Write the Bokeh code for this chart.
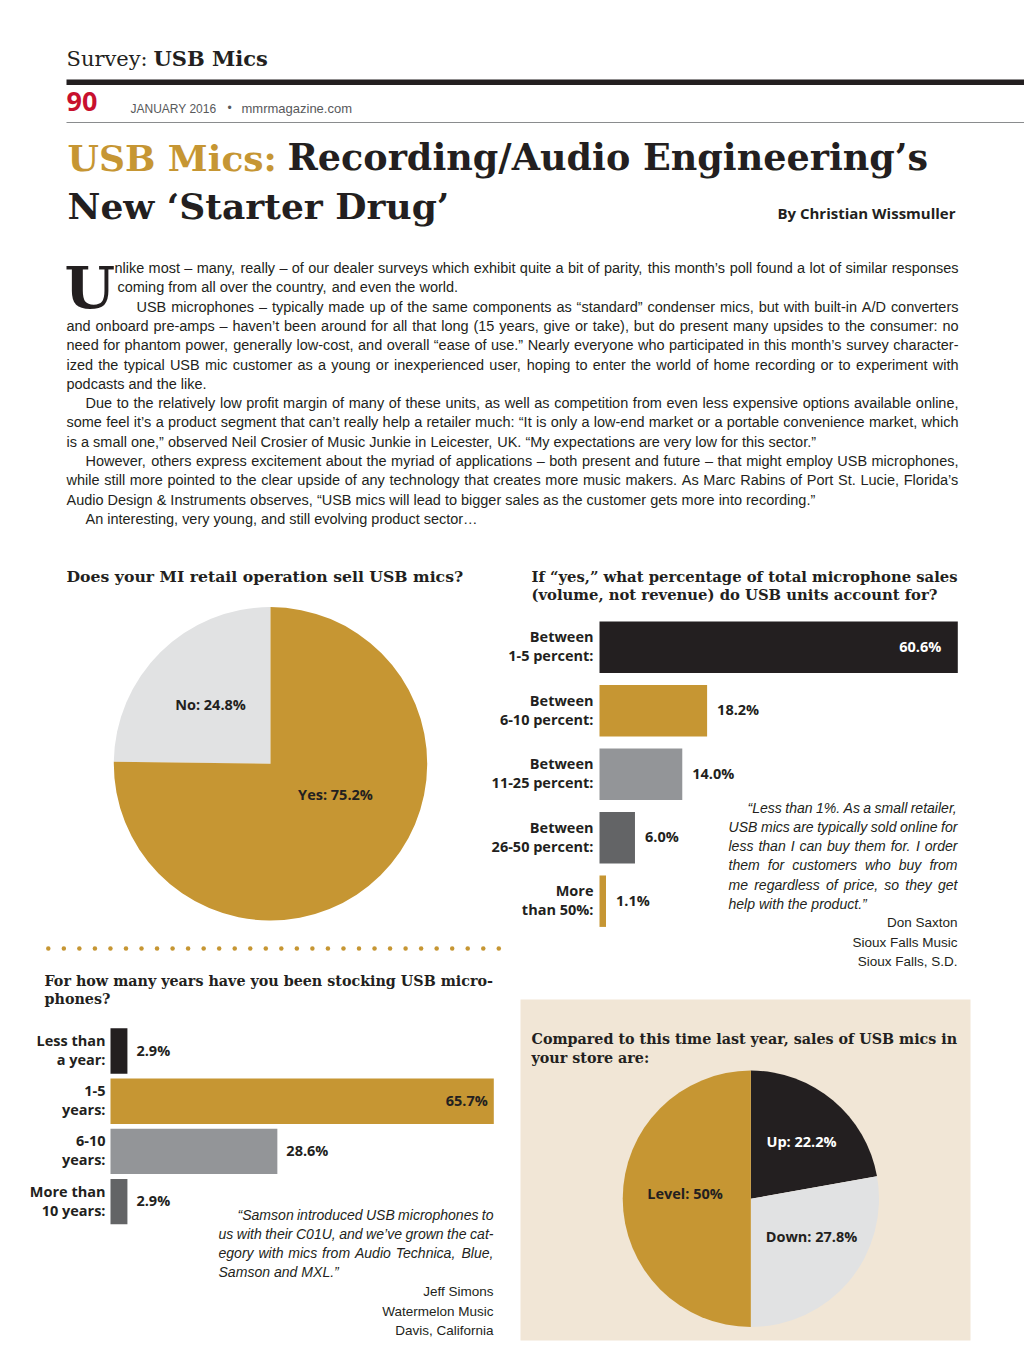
import math
from bokeh.plotting import figure
from bokeh.models import Range1d, ColumnDataSource
from bokeh.core.properties import value
from bokeh.embed import file_html
from bokeh.resources import INLINE

# ---------------- data ----------------
pie1_labels = ["No", "Yes"]
pie1_values = [24.8, 75.2]

bar1_line1 = ["Between", "Between", "Between", "Between", "More"]
bar1_line2 = ["1-5 percent:", "6-10 percent:", "11-25 percent:", "26-50 percent:", "than 50%:"]
bar1_values = [60.6, 18.2, 14.0, 6.0, 1.1]

bar2_line1 = ["Less than", "1-5", "6-10", "More than"]
bar2_line2 = ["a year:", "years:", "years:", "10 years:"]
bar2_values = [2.9, 65.7, 28.6, 2.9]

pie2_labels = ["Up", "Down", "Level"]
pie2_values = [22.2, 27.8, 50.0]

# ---------------- styles ----------------
GOLD = "#c69633"
INK = "#231f20"
LGRAY = "#e1e2e3"
GRAY = "#939598"
DGRAY = "#636466"
BEIGE = "#f1e6d6"
RED = "#c8102e"
pie1_colors = [LGRAY, GOLD]
pie2_colors = [INK, LGRAY, GOLD]
bar1_colors = [INK, GOLD, GRAY, DGRAY, GOLD]
bar2_colors = [INK, GOLD, GRAY, DGRAY]

SANS = value("Liberation Sans")
LAB = value("Open Sans")
SLAB = value("DejaVu Serif")
BASE_K = 0.41  # renderer places alphabetic baseline this many em lower; compensate

# Helvetica / Arial advance widths (1/1000 em) for justification
HELV = {' ': 278, '!': 278, '"': 355, '#': 556, '$': 556, '%': 889, '&': 667, "'": 191,
        '(': 333, ')': 333, '*': 389, '+': 584, ',': 278, '-': 333, '.': 278, '/': 278,
        ':': 278, ';': 278, '?': 556, '@': 1015,
        'A': 667, 'B': 667, 'C': 722, 'D': 722, 'E': 667, 'F': 611, 'G': 778, 'H': 722,
        'I': 278, 'J': 500, 'K': 667, 'L': 556, 'M': 833, 'N': 722, 'O': 778, 'P': 667,
        'Q': 778, 'R': 722, 'S': 667, 'T': 611, 'U': 722, 'V': 667, 'W': 944, 'X': 667,
        'Y': 667, 'Z': 611,
        'a': 556, 'b': 556, 'c': 500, 'd': 556, 'e': 556, 'f': 278, 'g': 556, 'h': 556,
        'i': 222, 'j': 222, 'k': 500, 'l': 222, 'm': 833, 'n': 556, 'o': 556, 'p': 556,
        'q': 556, 'r': 333, 's': 500, 't': 278, 'u': 556, 'v': 500, 'w': 722, 'x': 500,
        'y': 500, 'z': 500,
        '\u2013': 556, '\u2014': 1000, '\u201c': 333, '\u201d': 333, '\u2018': 222,
        '\u2019': 222, '\u2026': 1000, '\u2022': 350}
for _d in "0123456789":
    HELV[_d] = 556


def tw(s, fs):
    return sum(HELV.get(c, 556) for c in s) * fs / 1000.0


def fit_fs(lines, factor=0.985):
    ratios = sorted((x1 - x0) / tw(t, 1.0) for x0, x1, y, t, j in lines if j)
    return ratios[len(ratios) // 2] * factor


def layout_words(lines, fs):
    xs, ys, ts = [], [], []
    sp = tw(" ", fs)
    for x0, x1, y, text, just in lines:
        words = text.split(" ")
        wds = [tw(w, fs) for w in words]
        gap = sp
        if just and len(words) > 1:
            gap = max((x1 - x0 - sum(wds)) / (len(words) - 1), 0.55 * sp)
        x = x0
        for w, wd in zip(words, wds):
            xs.append(x); ys.append(y - BASE_K * fs); ts.append(w)
            x += wd + gap
    return ColumnDataSource(dict(x=xs, y=ys, text=ts))


# ---------------- figure (coordinates = page pixels) ----------------
W, H = 1024, 1370
X0, Y0 = 0, 0
p = figure(width=W, height=H, x_range=Range1d(X0, X0 + W), y_range=Range1d(Y0 + H, Y0),
           output_backend="svg", toolbar_location=None, min_border=0,
           x_axis_location=None, y_axis_location=None)
p.grid.visible = False
p.outline_line_color = None
p.background_fill_color = "white"
p.border_fill_color = "white"


def txt(x, y, t, font=SANS, size=13, color=INK, style="normal", align="left"):
    p.text(x=[x], y=[y - BASE_K * size], text=[t], text_font=font, text_font_size=f"{size}px",
           text_color=color, text_font_style=style, text_align=align, text_baseline="alphabetic")


# ---------------- header ----------------
txt(66, 67, "Survey:", font=SLAB, size=21)
txt(153, 67, "USB Mics", font=SLAB, size=21, style="bold")
p.quad(left=66, right=1024, top=79, bottom=84.5, fill_color=INK, line_color=None)
txt(66, 112.5, "90", font=LAB, size=27, color=RED, style="bold")
txt(130, 113, "JANUARY 2016", size=12, color="#58595b")
txt(227, 112, "\u2022", size=12, color="#58595b")
txt(241, 113, "mmrmagazine.com", size=13, color="#58595b")
p.segment(x0=[66], y0=[122], x1=[1024], y1=[122], line_color="#8a8c8e", line_width=1)

txt(67, 172, "USB Mics:", font=SLAB, size=36, color=GOLD, style="bold")
txt(287, 172, "Recording/Audio Engineering\u2019s", font=SLAB, size=36.5, style="bold")
txt(67, 220, "New \u2018Starter Drug\u2019", font=SLAB, size=36, style="bold")
txt(955, 219, "By Christian Wissmuller", font=LAB, size=15, style="bold", align="right")

# ---------------- body text ----------------
txt(64, 311, "U", font=SLAB, size=58, style="bold")
R = 958
body = [
    (114, "nlike most \u2013 many, really \u2013 of our dealer surveys which exhibit quite a bit of parity, this month\u2019s poll found a lot of similar responses", True),
    (117, "coming from all over the country, and even the world.", False),
    (136, "USB microphones \u2013 typically made up of the same components as \u201cstandard\u201d condenser mics, but with built-in A/D converters", True),
    (66, "and onboard pre-amps \u2013 haven\u2019t been around for all that long (15 years, give or take), but do present many upsides to the consumer: no", True),
    (66, "need for phantom power, generally low-cost, and overall \u201cease of use.\u201d Nearly everyone who participated in this month\u2019s survey character-", True),
    (66, "ized the typical USB mic customer as a young or inexperienced user, hoping to enter the world of home recording or to experiment with", True),
    (66, "podcasts and the like.", False),
    (85, "Due to the relatively low profit margin of many of these units, as well as competition from even less expensive options available online,", True),
    (66, "some feel it\u2019s a product segment that can\u2019t really help a retailer much: \u201cIt is only a low-end market or a portable convenience market, which", True),
    (66, "is a small one,\u201d observed Neil Crosier of Music Junkie in Leicester, UK. \u201cMy expectations are very low for this sector.\u201d", False),
    (85, "However, others express excitement about the myriad of applications \u2013 both present and future \u2013 that might employ USB microphones,", True),
    (66, "while still more pointed to the clear upside of any technology that creates more music makers. As Marc Rabins of Port St. Lucie, Florida\u2019s", True),
    (66, "Audio Design & Instruments observes, \u201cUSB mics will lead to bigger sales as the customer gets more into recording.\u201d", False),
    (85, "An interesting, very young, and still evolving product sector\u2026", False),
]
body_lines = [(x0, R, 273.5 + i * 19.3, t, j) for i, (x0, t, j) in enumerate(body)]
fs_body = fit_fs(body_lines)
p.text(x="x", y="y", text="text", source=layout_words(body_lines, fs_body),
       text_font=SANS, text_font_size=f"{fs_body:.2f}px", text_color=INK,
       text_baseline="alphabetic", text_align="left")

# ---------------- section titles ----------------
txt(66, 582, "Does your MI retail operation sell USB mics?", font=SLAB, size=15.7, style="bold")
txt(531, 582, "If \u201cyes,\u201d what percentage of total microphone sales", font=SLAB, size=14.8, style="bold")
txt(531, 600.5, "(volume, not revenue) do USB units account for?", font=SLAB, size=14.8, style="bold")
txt(44, 986, "For how many years have you been stocking USB micro-", font=SLAB, size=14.3, style="bold")
txt(44, 1004.5, "phones?", font=SLAB, size=14.3, style="bold")


def pie_angles(values, start_deg, clockwise):
    total = float(sum(values))
    a = start_deg
    s_, e_ = [], []
    for v in values:
        sw = v / total * 360.0
        if clockwise:
            s_.append(math.radians(a - sw)); e_.append(math.radians(a)); a -= sw
        else:
            s_.append(math.radians(a)); e_.append(math.radians(a + sw)); a += sw
    return s_, e_


def fmt(v):
    return f"{v:g}%"


# ---------------- pie 1 ----------------
s1, e1 = pie_angles(pie1_values, 90, clockwise=False)
p.wedge(x=270, y=763.3, radius=156.7, radius_units="screen", start_angle=s1, end_angle=e1,
        fill_color=pie1_colors, line_color=None)
pie1_lab_pos = [(210, 709.5), (335, 800)]
for (lx, ly), lab, v in zip(pie1_lab_pos, pie1_labels, pie1_values):
    txt(lx, ly, f"{lab}: {fmt(v)}", font=LAB, size=14.5, style="bold", align="center")

# dotted separator
n_dots = 30
dot_x = [47.8 + i * (498.3 - 47.8) / (n_dots - 1) for i in range(n_dots)]
p.scatter(x=dot_x, y=[948] * n_dots, size=4.5, marker="circle", fill_color=GOLD, line_color=None)


# ---------------- bar charts ----------------
LFS = 14.5


def bar_chart(name, values, colors, line1, line2, x_left, x_right, y_first, dy, h, lab_gap, val_gap, in_gap, in_color):
    s = (x_right - x_left) / max(values)
    p.extra_x_ranges[name + "x"] = Range1d((X0 - x_left) / s, (X0 + W - x_left) / s)
    p.extra_y_ranges[name + "y"] = Range1d((Y0 + H - y_first) / dy, (Y0 - y_first) / dy)
    idx = list(range(len(values)))
    kw = dict(x_range_name=name + "x", y_range_name=name + "y")
    p.hbar(y=idx, left=0, right=values, height=h, fill_color=colors, line_color=None, **kw)
    corr = -BASE_K * LFS
    lk = dict(text_font=LAB, text_font_size=f"{LFS}px", text_color=INK, text_font_style="bold",
              text_align="right", text_baseline="alphabetic", **kw)
    p.text(x=[0] * len(idx), y=idx, text=line1, x_offset=-lab_gap, y_offset=-4.5 + corr, **lk)
    p.text(x=[0] * len(idx), y=idx, text=line2, x_offset=-lab_gap, y_offset=14.5 + corr, **lk)
    vmax = max(values)
    out_i = [i for i, v in enumerate(values) if v != vmax]
    in_i = [i for i, v in enumerate(values) if v == vmax]
    vk = dict(text_font=LAB, text_font_size=f"{LFS}px", text_font_style="bold",
              text_baseline="alphabetic", **kw)
    p.text(x=[values[i] for i in out_i], y=out_i, text=[f"{values[i]:.1f}%" for i in out_i],
           x_offset=val_gap, y_offset=5 + corr, text_align="left", text_color=INK, **vk)
    p.text(x=[values[i] for i in in_i], y=in_i, text=[f"{values[i]:.1f}%" for i in in_i],
           x_offset=-in_gap, y_offset=5 + corr, text_align="right", text_color=in_color, **vk)


bar_chart("b1", bar1_values, bar1_colors, bar1_line1, bar1_line2,
          599, 957.3, 646.7, 63.5, 0.81, 6, 10, 16.5, "white")
bar_chart("b2", bar2_values, bar2_colors, bar2_line1, bar2_line2,
          110, 493.3, 1050.5, 50.2, 0.905, 5, 9, 6, INK)

# ---------------- quotes ----------------
q1 = [
    (747, "\u201cLess than 1%. As a small retailer,", True),
    (728, "USB mics are typically sold online for", True),
    (728, "less than I can buy them for. I order", True),
    (728, "them for customers who buy from", True),
    (728, "me regardless of price, so they get", True),
    (728, "help with the product.\u201d", False),
]
q1_lines = [(x0, 957, 813 + i * 19.2, t, j) for i, (x0, t, j) in enumerate(q1)]
q2 = [
    (237, "\u201cSamson introduced USB microphones to", True),
    (218, "us with their C01U, and we\u2019ve grown the cat-", True),
    (218, "egory with mics from Audio Technica, Blue,", True),
    (218, "Samson and MXL.\u201d", False),
]
q2_lines = [(x0, 493, 1220 + i * 19.2, t, j) for i, (x0, t, j) in enumerate(q2)]
fs_q = fit_fs(q1_lines + q2_lines, 0.98)
for ql in (q1_lines, q2_lines):
    p.text(x="x", y="y", text="text", source=layout_words(ql, fs_q),
           text_font=SANS, text_font_size=f"{fs_q:.2f}px", text_color=INK, text_font_style="italic",
           text_baseline="alphabetic", text_align="left")

for i, t in enumerate(["Don Saxton", "Sioux Falls Music", "Sioux Falls, S.D."]):
    txt(957, 928 + i * 19.4, t, size=13.5, align="right")
for i, t in enumerate(["Jeff Simons", "Watermelon Music", "Davis, California"]):
    txt(493, 1297 + i * 19.2, t, size=13.5, align="right")

# ---------------- pie 2 (beige panel) ----------------
p.quad(left=520, right=970, top=999, bottom=1340, fill_color=BEIGE, line_color=None)
txt(531, 1044.5, "Compared to this time last year, sales of USB mics in", font=SLAB, size=14.3, style="bold")
txt(531, 1063.5, "your store are:", font=SLAB, size=14.3, style="bold")
s2, e2 = pie_angles(pie2_values, 90, clockwise=True)
p.wedge(x=750.3, y=1198.3, radius=128.2, radius_units="screen", start_angle=s2, end_angle=e2,
        fill_color=pie2_colors, line_color=None)
pie2_lab_pos = [(801, 1146.5), (811, 1242), (684.5, 1199)]
pie2_lab_col = ["white", INK, INK]
for (lx, ly), lab, v, c in zip(pie2_lab_pos, pie2_labels, pie2_values, pie2_lab_col):
    txt(lx, ly, f"{lab}: {fmt(v)}", font=LAB, size=14.5, color=c, style="bold", align="center")

open("out.html", "w").write(file_html(p, INLINE))
